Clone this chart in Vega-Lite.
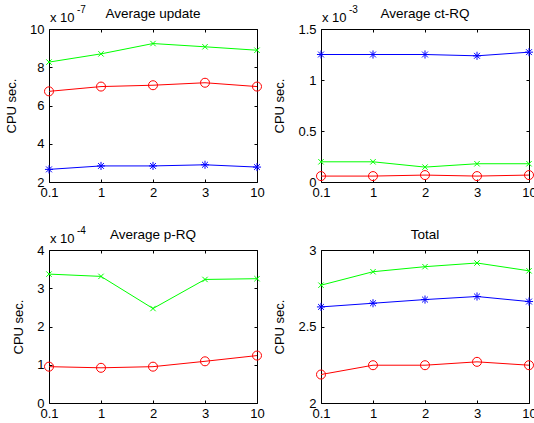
{
  "$schema": "https://vega.github.io/schema/vega-lite/v6.json",
  "padding": {"left": 5, "top": 5, "right": 0, "bottom": 0},
  "columns": 2,
  "bounds": "flush",
  "spacing": {"row": 68, "column": 64},
  "config": {
    "font": "Liberation Sans",
    "view": {"stroke": null},
    "axis": {
      "domainColor": "#000000",
      "domainWidth": 1,
      "tickColor": "#000000",
      "tickWidth": 1,
      "tickSize": -3,
      "labelFont": "Liberation Sans",
      "labelFontSize": 13,
      "labelColor": "#000000",
      "labelPadding": 8,
      "labelFlush": false,
      "labelOverlap": false,
      "grid": false,
      "titleFont": "Liberation Sans",
      "titleFontSize": 13,
      "titleFontWeight": "normal",
      "titleColor": "#000000",
      "titlePadding": 11
    },
    "axisX": {"labelPadding": 7},
    "text": {"font": "Liberation Sans", "color": "#000000"}
  },
  "datasets": {
    "update": [
      {"x": "0.1", "series": "g", "y": 8.27}, {"x": "1", "series": "g", "y": 8.70}, {"x": "2", "series": "g", "y": 9.24}, {"x": "3", "series": "g", "y": 9.07}, {"x": "10", "series": "g", "y": 8.89},
      {"x": "0.1", "series": "r", "y": 6.74}, {"x": "1", "series": "r", "y": 6.99}, {"x": "2", "series": "r", "y": 7.06}, {"x": "3", "series": "r", "y": 7.19}, {"x": "10", "series": "r", "y": 6.99},
      {"x": "0.1", "series": "b", "y": 2.66}, {"x": "1", "series": "b", "y": 2.84}, {"x": "2", "series": "b", "y": 2.84}, {"x": "3", "series": "b", "y": 2.90}, {"x": "10", "series": "b", "y": 2.78}
    ],
    "ctrq": [
      {"x": "0.1", "series": "b", "y": 1.25}, {"x": "1", "series": "b", "y": 1.25}, {"x": "2", "series": "b", "y": 1.25}, {"x": "3", "series": "b", "y": 1.237}, {"x": "10", "series": "b", "y": 1.273},
      {"x": "0.1", "series": "g", "y": 0.198}, {"x": "1", "series": "g", "y": 0.198}, {"x": "2", "series": "g", "y": 0.146}, {"x": "3", "series": "g", "y": 0.179}, {"x": "10", "series": "g", "y": 0.179},
      {"x": "0.1", "series": "r", "y": 0.058}, {"x": "1", "series": "r", "y": 0.058}, {"x": "2", "series": "r", "y": 0.068}, {"x": "3", "series": "r", "y": 0.058}, {"x": "10", "series": "r", "y": 0.068}
    ],
    "prq": [
      {"x": "0.1", "series": "g", "y": 3.37}, {"x": "1", "series": "g", "y": 3.31}, {"x": "2", "series": "g", "y": 2.47}, {"x": "3", "series": "g", "y": 3.23}, {"x": "10", "series": "g", "y": 3.25},
      {"x": "0.1", "series": "r", "y": 0.95}, {"x": "1", "series": "r", "y": 0.92}, {"x": "2", "series": "r", "y": 0.95}, {"x": "3", "series": "r", "y": 1.09}, {"x": "10", "series": "r", "y": 1.24}
    ],
    "total": [
      {"x": "0.1", "series": "g", "y": 2.770}, {"x": "1", "series": "g", "y": 2.858}, {"x": "2", "series": "g", "y": 2.891}, {"x": "3", "series": "g", "y": 2.915}, {"x": "10", "series": "g", "y": 2.864},
      {"x": "0.1", "series": "b", "y": 2.628}, {"x": "1", "series": "b", "y": 2.652}, {"x": "2", "series": "b", "y": 2.676}, {"x": "3", "series": "b", "y": 2.696}, {"x": "10", "series": "b", "y": 2.663},
      {"x": "0.1", "series": "r", "y": 2.186}, {"x": "1", "series": "r", "y": 2.247}, {"x": "2", "series": "r", "y": 2.247}, {"x": "3", "series": "r", "y": 2.269}, {"x": "10", "series": "r", "y": 2.247}
    ]
  },
  "concat": [
    {
      "width": 208, "height": 153,
      "resolve": {"axis": {"x": "independent", "y": "independent"}},
      "layer": [
        {
          "data": {"name": "update"},
          "mark": {"type": "line", "strokeWidth": 1},
          "encoding": {
            "x": {"field": "x", "type": "ordinal", "scale": {"type": "point", "padding": 0, "domain": ["0.1", "1", "2", "3", "10"]}, "axis": {"orient": "bottom", "labelAngle": 0, "title": null}},
            "y": {"field": "y", "type": "quantitative", "scale": {"domain": [2, 10], "nice": false, "zero": false}, "axis": {"orient": "left", "values": [2, 4, 6, 8, 10], "format": "~r", "title": "CPU sec."}},
            "color": {"field": "series", "type": "nominal", "scale": {"domain": ["g", "r", "b"], "range": ["#00ff00", "#ff0000", "#0000ff"]}, "legend": null}
          }
        },
        {
          "data": {"name": "update"},
          "mark": {"type": "point", "filled": false, "size": 81, "strokeWidth": 1, "opacity": 1},
          "encoding": {
            "x": {"field": "x", "type": "ordinal", "axis": {"orient": "top", "labels": false, "title": null}},
            "y": {"field": "y", "type": "quantitative", "axis": {"orient": "right", "labels": false, "title": null, "values": [2, 4, 6, 8, 10]}},
            "color": {"field": "series", "type": "nominal", "legend": null},
            "shape": {"field": "series", "type": "nominal", "scale": {"domain": ["g", "r", "b"], "range": ["M-0.6,-0.6L0.6,0.6M-0.6,0.6L0.6,-0.6", "circle", "M-0.9,0L0.9,0M0,-0.9L0,0.9M-0.65,-0.65L0.65,0.65M-0.65,0.65L0.65,-0.65"]}, "legend": null}
          }
        },
        {
          "data": {"values": [{"label": "Average update"}]},
          "mark": {"type": "text", "align": "center", "baseline": "alphabetic", "dy": -11, "fontSize": 13.5},
          "encoding": {"x": {"datum": "2", "type": "ordinal", "axis": null}, "y": {"datum": 10, "type": "quantitative", "axis": null}, "text": {"field": "label"}}
        },
        {
          "data": {"values": [{"label": "x 10"}]},
          "mark": {"type": "text", "align": "left", "baseline": "alphabetic", "dx": 1, "dy": -7, "fontSize": 13},
          "encoding": {"x": {"datum": "0.1", "type": "ordinal", "axis": null}, "y": {"datum": 10, "type": "quantitative", "axis": null}, "text": {"field": "label"}}
        },
        {
          "data": {"values": [{"label": "-7"}]},
          "mark": {"type": "text", "align": "left", "baseline": "alphabetic", "dx": 28, "dy": -16, "fontSize": 10},
          "encoding": {"x": {"datum": "0.1", "type": "ordinal", "axis": null}, "y": {"datum": 10, "type": "quantitative", "axis": null}, "text": {"field": "label"}}
        }
      ]
    },
    {
      "width": 208, "height": 153,
      "resolve": {"axis": {"x": "independent", "y": "independent"}},
      "layer": [
        {
          "data": {"name": "ctrq"},
          "mark": {"type": "line", "strokeWidth": 1},
          "encoding": {
            "x": {"field": "x", "type": "ordinal", "scale": {"type": "point", "padding": 0, "domain": ["0.1", "1", "2", "3", "10"]}, "axis": {"orient": "bottom", "labelAngle": 0, "title": null}},
            "y": {"field": "y", "type": "quantitative", "scale": {"domain": [0, 1.5], "nice": false, "zero": false}, "axis": {"orient": "left", "values": [0, 0.5, 1, 1.5], "format": "~r", "title": "CPU sec."}},
            "color": {"field": "series", "type": "nominal", "scale": {"domain": ["g", "r", "b"], "range": ["#00ff00", "#ff0000", "#0000ff"]}, "legend": null}
          }
        },
        {
          "data": {"name": "ctrq"},
          "mark": {"type": "point", "filled": false, "size": 81, "strokeWidth": 1, "opacity": 1},
          "encoding": {
            "x": {"field": "x", "type": "ordinal", "axis": {"orient": "top", "labels": false, "title": null}},
            "y": {"field": "y", "type": "quantitative", "axis": {"orient": "right", "labels": false, "title": null, "values": [0, 0.5, 1, 1.5]}},
            "color": {"field": "series", "type": "nominal", "legend": null},
            "shape": {"field": "series", "type": "nominal", "scale": {"domain": ["g", "r", "b"], "range": ["M-0.6,-0.6L0.6,0.6M-0.6,0.6L0.6,-0.6", "circle", "M-0.9,0L0.9,0M0,-0.9L0,0.9M-0.65,-0.65L0.65,0.65M-0.65,0.65L0.65,-0.65"]}, "legend": null}
          }
        },
        {
          "data": {"values": [{"label": "Average ct-RQ"}]},
          "mark": {"type": "text", "align": "center", "baseline": "alphabetic", "dy": -11, "fontSize": 13.5},
          "encoding": {"x": {"datum": "2", "type": "ordinal", "axis": null}, "y": {"datum": 1.5, "type": "quantitative", "axis": null}, "text": {"field": "label"}}
        },
        {
          "data": {"values": [{"label": "x 10"}]},
          "mark": {"type": "text", "align": "left", "baseline": "alphabetic", "dx": 1, "dy": -7, "fontSize": 13},
          "encoding": {"x": {"datum": "0.1", "type": "ordinal", "axis": null}, "y": {"datum": 1.5, "type": "quantitative", "axis": null}, "text": {"field": "label"}}
        },
        {
          "data": {"values": [{"label": "-3"}]},
          "mark": {"type": "text", "align": "left", "baseline": "alphabetic", "dx": 28, "dy": -16, "fontSize": 10},
          "encoding": {"x": {"datum": "0.1", "type": "ordinal", "axis": null}, "y": {"datum": 1.5, "type": "quantitative", "axis": null}, "text": {"field": "label"}}
        }
      ]
    },
    {
      "width": 208, "height": 153,
      "resolve": {"axis": {"x": "independent", "y": "independent"}},
      "layer": [
        {
          "data": {"name": "prq"},
          "mark": {"type": "line", "strokeWidth": 1},
          "encoding": {
            "x": {"field": "x", "type": "ordinal", "scale": {"type": "point", "padding": 0, "domain": ["0.1", "1", "2", "3", "10"]}, "axis": {"orient": "bottom", "labelAngle": 0, "title": null}},
            "y": {"field": "y", "type": "quantitative", "scale": {"domain": [0, 4], "nice": false, "zero": false}, "axis": {"orient": "left", "values": [0, 1, 2, 3, 4], "format": "~r", "title": "CPU sec."}},
            "color": {"field": "series", "type": "nominal", "scale": {"domain": ["g", "r", "b"], "range": ["#00ff00", "#ff0000", "#0000ff"]}, "legend": null}
          }
        },
        {
          "data": {"name": "prq"},
          "mark": {"type": "point", "filled": false, "size": 81, "strokeWidth": 1, "opacity": 1},
          "encoding": {
            "x": {"field": "x", "type": "ordinal", "axis": {"orient": "top", "labels": false, "title": null}},
            "y": {"field": "y", "type": "quantitative", "axis": {"orient": "right", "labels": false, "title": null, "values": [0, 1, 2, 3, 4]}},
            "color": {"field": "series", "type": "nominal", "legend": null},
            "shape": {"field": "series", "type": "nominal", "scale": {"domain": ["g", "r", "b"], "range": ["M-0.6,-0.6L0.6,0.6M-0.6,0.6L0.6,-0.6", "circle", "M-0.9,0L0.9,0M0,-0.9L0,0.9M-0.65,-0.65L0.65,0.65M-0.65,0.65L0.65,-0.65"]}, "legend": null}
          }
        },
        {
          "data": {"values": [{"label": "Average p-RQ"}]},
          "mark": {"type": "text", "align": "center", "baseline": "alphabetic", "dy": -11, "fontSize": 13.5},
          "encoding": {"x": {"datum": "2", "type": "ordinal", "axis": null}, "y": {"datum": 4, "type": "quantitative", "axis": null}, "text": {"field": "label"}}
        },
        {
          "data": {"values": [{"label": "x 10"}]},
          "mark": {"type": "text", "align": "left", "baseline": "alphabetic", "dx": 1, "dy": -7, "fontSize": 13},
          "encoding": {"x": {"datum": "0.1", "type": "ordinal", "axis": null}, "y": {"datum": 4, "type": "quantitative", "axis": null}, "text": {"field": "label"}}
        },
        {
          "data": {"values": [{"label": "-4"}]},
          "mark": {"type": "text", "align": "left", "baseline": "alphabetic", "dx": 28, "dy": -16, "fontSize": 10},
          "encoding": {"x": {"datum": "0.1", "type": "ordinal", "axis": null}, "y": {"datum": 4, "type": "quantitative", "axis": null}, "text": {"field": "label"}}
        }
      ]
    },
    {
      "width": 208, "height": 153,
      "resolve": {"axis": {"x": "independent", "y": "independent"}},
      "layer": [
        {
          "data": {"name": "total"},
          "mark": {"type": "line", "strokeWidth": 1},
          "encoding": {
            "x": {"field": "x", "type": "ordinal", "scale": {"type": "point", "padding": 0, "domain": ["0.1", "1", "2", "3", "10"]}, "axis": {"orient": "bottom", "labelAngle": 0, "title": null}},
            "y": {"field": "y", "type": "quantitative", "scale": {"domain": [2, 3], "nice": false, "zero": false}, "axis": {"orient": "left", "values": [2, 2.5, 3], "format": "~r", "title": "CPU sec."}},
            "color": {"field": "series", "type": "nominal", "scale": {"domain": ["g", "r", "b"], "range": ["#00ff00", "#ff0000", "#0000ff"]}, "legend": null}
          }
        },
        {
          "data": {"name": "total"},
          "mark": {"type": "point", "filled": false, "size": 81, "strokeWidth": 1, "opacity": 1},
          "encoding": {
            "x": {"field": "x", "type": "ordinal", "axis": {"orient": "top", "labels": false, "title": null}},
            "y": {"field": "y", "type": "quantitative", "axis": {"orient": "right", "labels": false, "title": null, "values": [2, 2.5, 3]}},
            "color": {"field": "series", "type": "nominal", "legend": null},
            "shape": {"field": "series", "type": "nominal", "scale": {"domain": ["g", "r", "b"], "range": ["M-0.6,-0.6L0.6,0.6M-0.6,0.6L0.6,-0.6", "circle", "M-0.9,0L0.9,0M0,-0.9L0,0.9M-0.65,-0.65L0.65,0.65M-0.65,0.65L0.65,-0.65"]}, "legend": null}
          }
        },
        {
          "data": {"values": [{"label": "Total"}]},
          "mark": {"type": "text", "align": "center", "baseline": "alphabetic", "dy": -11, "fontSize": 13.5},
          "encoding": {"x": {"datum": "2", "type": "ordinal", "axis": null}, "y": {"datum": 3, "type": "quantitative", "axis": null}, "text": {"field": "label"}}
        }
      ]
    }
  ]
}
